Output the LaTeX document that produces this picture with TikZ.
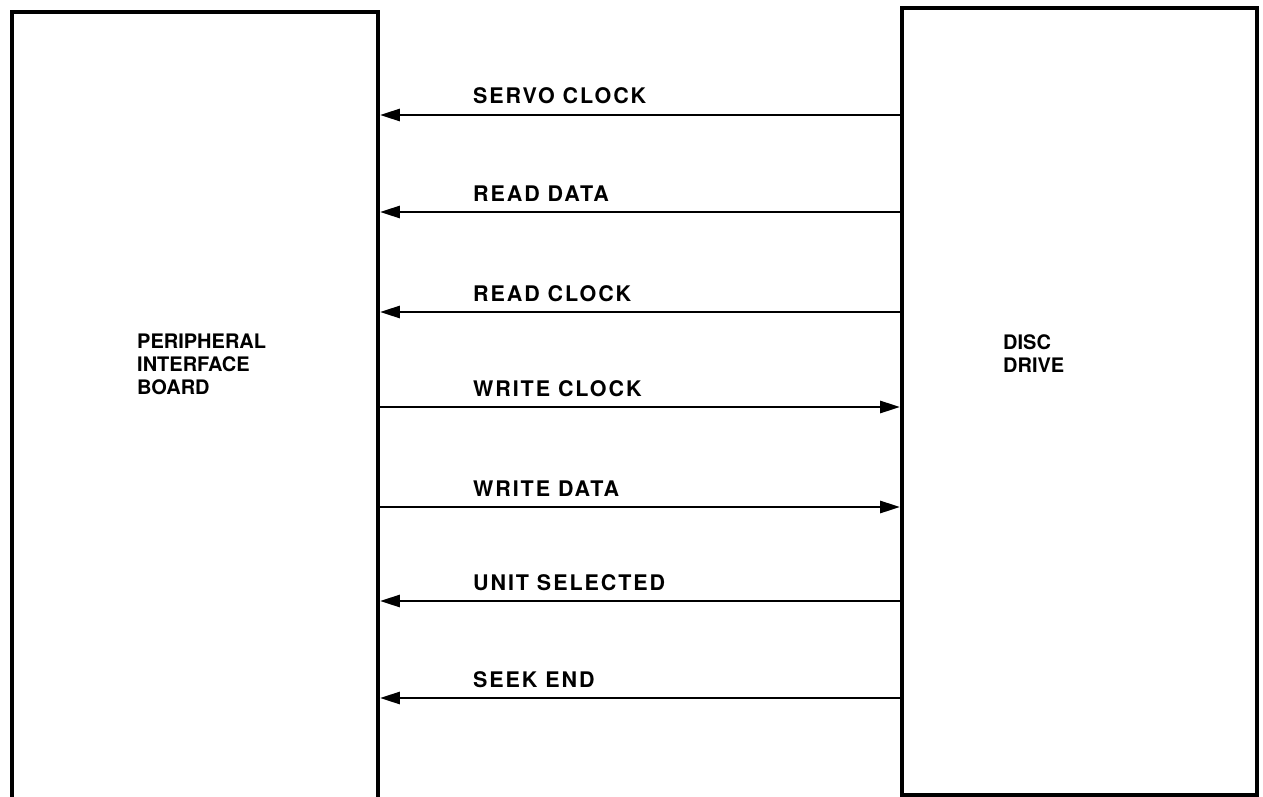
\documentclass[tikz,border=0pt]{standalone}
\usepackage{fontspec}
\setmainfont{TeX Gyre Heros}
\usetikzlibrary{arrows.meta, positioning}

\begin{document}
\begin{tikzpicture}[x=1pt, y=-1pt,
    blk/.style={draw, line width=3.8pt, inner sep=0pt},
    sig/.style={line width=2.8pt},
    rx/.style={{Triangle[length=20pt, width=12pt]}-},
    tx/.style={-{Triangle[length=20pt, width=12pt]}},
    lbl/.style={font=\fontsize{21.5}{23}\selectfont\bfseries\addfontfeatures{LetterSpace=9}, anchor=base west, inner sep=0pt},
    btxt/.style={font=\fontsize{20}{23}\selectfont\bfseries, align=left, anchor=north west, inner sep=0pt}
  ]
  \clip (0,0) rectangle (1263,797);
  \fill[white] (0,0) rectangle (1263,797);

  % the two units
  \node[blk, minimum width=366pt, minimum height=820pt] (pib) at (195,422) {};
  \node[blk, minimum width=355pt, minimum height=787pt] (dd) at (1079.5,401.5) {};
  \node[btxt] (pibtxt) at (137,334) {PERIPHERAL\\INTERFACE\\BOARD};
  \node[btxt] (ddtxt) at (1003,334) {DISC\\DRIVE};

  % signal lines between them
  \foreach \yy/\txt/\dir [count=\i] in {115/SERVO CLOCK/rx, 212/READ DATA/rx, 312/READ CLOCK/rx,
      407/WRITE CLOCK/tx, 507/WRITE DATA/tx, 601/UNIT SELECTED/rx, 698/SEEK END/rx} {
    \coordinate (s\i) at (0,\yy);
    \draw[sig, \dir] (pib.east |- s\i) -- (dd.west |- s\i);
    \path (pib.east |- s\i) ++(93,-11) node[lbl] (l\i) {\txt};
  }
\end{tikzpicture}
\end{document}
